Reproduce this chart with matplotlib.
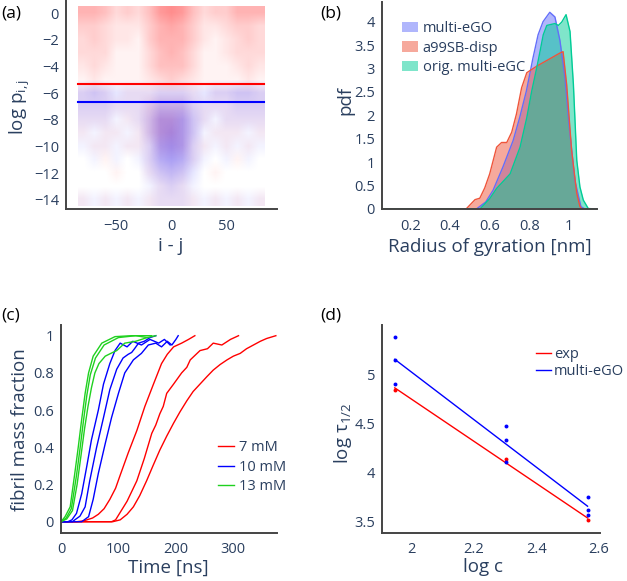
import matplotlib.pyplot as plt
import numpy as np
from matplotlib.ticker import FuncFormatter

plt.rcParams['font.family'] = ['Open Sans', 'DejaVu Sans']
plt.rcParams['mathtext.fontset'] = 'custom'
plt.rcParams['mathtext.rm'] = 'Open Sans'
plt.rcParams['mathtext.it'] = 'Open Sans:italic'

TXT = '#2a3f5f'

# ---- (a) contact probability vs sequence separation (density)
sep_edges = [-85, 85]
logp_edges = [-14.5, 0.5]
sep_cols = [-80, -70, -60, -50, -40, -30, -20, -10, 0, 10, 20, 30, 40, 50, 60, 70, 80]
red_density = [
    [6, 6, 5, 3, 4, 3, 5, 8, 9, 8, 5, 3, 4, 4, 6, 6, 6],
    [4, 4, 3, 2, 2, 2, 4, 6, 7, 6, 4, 2, 2, 3, 4, 4, 3],
    [3, 4, 3, 2, 2, 1, 4, 6, 6, 6, 4, 2, 1, 2, 3, 4, 3],
    [3, 3, 3, 1, 1, 1, 3, 5, 6, 5, 3, 1, 1, 2, 3, 3, 3],
    [2, 3, 2, 1, 1, 1, 3, 5, 5, 5, 3, 1, 1, 1, 2, 3, 2],
    [1, 2, 1, 1, 1, 1, 2, 3, 4, 3, 2, 1, 1, 1, 1, 2, 1],
    [1, 1, 1, 0, 1, 1, 1, 1, 1, 1, 1, 0, 1, 1, 1, 1, 1],
    [1, 1, 1, 1, 1, 1, 2, 2, 2, 2, 1, 1, 1, 1, 1, 1, 1],
    [1, 1, 1, 0, 1, 1, 2, 3, 3, 2, 1, 1, 0, 1, 1, 1, 1],
    [1, 0, 1, 1, 0, 1, 2, 3, 3, 2, 1, 0, 1, 1, 1, 0, 1],
    [0, 1, 1, 0, 1, 1, 1, 2, 2, 2, 1, 1, 0, 1, 0, 1, 0],
    [0, 0, 1, 0, 0, 0, 1, 1, 1, 1, 1, 0, 0, 0, 1, 0, 0],
    [0, 0, 0, 1, 0, 0, 1, 1, 1, 1, 0, 0, 1, 0, 0, 0, 0],
    [0, 0, 0, 0, 0, 0, 0, 1, 1, 1, 0, 0, 0, 0, 0, 0, 0],
    [1, 0, 1, 0, 1, 0, 1, 1, 1, 1, 1, 0, 1, 0, 1, 0, 1],
]
blue_density = [
    [0, 0, 0, 0, 0, 0, 0, 0, 0, 0, 0, 0, 0, 0, 0, 0, 0],
    [0, 0, 0, 0, 0, 0, 0, 0, 0, 0, 0, 0, 0, 0, 0, 0, 0],
    [0, 0, 0, 0, 0, 0, 0, 0, 0, 0, 0, 0, 0, 0, 0, 0, 0],
    [0, 0, 0, 0, 0, 0, 0, 0, 0, 0, 0, 0, 0, 0, 0, 0, 0],
    [0, 0, 0, 0, 0, 0, 0, 0, 0, 0, 0, 0, 0, 0, 0, 0, 0],
    [0, 0, 0, 0, 0, 0, 0, 0, 0, 0, 0, 0, 0, 0, 0, 0, 0],
    [3, 4, 3, 2, 2, 2, 2, 3, 3, 3, 2, 2, 3, 3, 4, 4, 3],
    [3, 3, 3, 2, 2, 2, 3, 5, 5, 5, 3, 2, 2, 2, 3, 3, 3],
    [2, 2, 2, 1, 1, 2, 4, 7, 7, 7, 4, 2, 1, 2, 2, 2, 2],
    [1, 1, 1, 1, 1, 1, 4, 7, 8, 7, 4, 1, 1, 1, 1, 1, 1],
    [1, 1, 1, 1, 1, 1, 3, 7, 8, 7, 3, 1, 1, 1, 1, 1, 1],
    [0, 1, 0, 1, 0, 1, 3, 6, 7, 6, 3, 1, 0, 1, 0, 1, 0],
    [0, 0, 0, 0, 0, 0, 2, 4, 5, 4, 2, 0, 0, 0, 0, 0, 0],
    [0, 0, 0, 0, 0, 0, 1, 2, 3, 2, 1, 0, 0, 0, 0, 0, 0],
    [1, 1, 1, 1, 1, 1, 1, 2, 2, 2, 1, 1, 1, 1, 1, 1, 1],
]
red_threshold = -5.34
blue_threshold = -6.68

# ---- (b) radius of gyration distributions
rg_blue = [0.06, 0.50, 0.533, 0.58, 0.617, 0.667, 0.718, 0.751, 0.785, 0.818, 0.844, 0.869, 0.903, 0.929, 0.954, 0.98, 1.0, 1.03, 1.06, 1.08, 1.14]
pdf_blue = [0, 0, 0, 0.15, 0.40, 0.90, 1.46, 1.95, 2.52, 3.22, 3.72, 4.0, 4.2, 4.1, 3.6, 2.8, 1.8, 0.6, 0.05, 0, 0]
rg_red = [0.06, 0.45, 0.481, 0.526, 0.55, 0.575, 0.60, 0.635, 0.66, 0.686, 0.711, 0.735, 0.761, 0.787, 0.837, 0.9, 0.954, 0.97, 0.988, 1.013, 1.039, 1.055, 1.065, 1.14]
pdf_red = [0, 0, 0, 0.2, 0.23, 0.45, 0.75, 1.32, 1.42, 1.42, 1.64, 2.03, 2.59, 2.91, 3.05, 3.2, 3.33, 3.36, 2.66, 1.25, 0.33, 0.05, 0, 0]
rg_green = [0.06, 0.52, 0.551, 0.60, 0.635, 0.703, 0.753, 0.787, 0.812, 0.837, 0.854, 0.87, 0.888, 0.929, 0.946, 0.963, 0.985, 1.005, 1.022, 1.039, 1.055, 1.072, 1.097, 1.14]
pdf_green = [0, 0, 0, 0.22, 0.44, 0.75, 1.32, 1.95, 2.52, 3.01, 3.37, 3.72, 3.92, 3.96, 3.92, 3.99, 4.15, 3.79, 2.66, 1.04, 0.47, 0.19, 0.01, 0]
rg_labels = ['multi-eGO', 'a99SB-disp', 'orig. multi-eGC']

# ---- (c) fibril mass fraction vs time
g1_t = [0, 7, 16, 24, 30, 36, 42, 48, 56, 71, 94, 123, 158]
g1_f = [0, 0.027, 0.08, 0.26, 0.40, 0.55, 0.69, 0.80, 0.89, 0.96, 0.995, 1.0, 1.0]
g2_t = [0, 9, 18, 27, 33, 39, 45, 51, 60, 75, 100, 130, 150]
g2_f = [0, 0.02, 0.07, 0.25, 0.39, 0.54, 0.68, 0.79, 0.88, 0.95, 0.99, 1.0, 0.99]
g3_t = [0, 10, 20, 28, 35, 41, 47, 53, 59, 66, 77, 90, 97, 111, 130, 150, 165]
g3_f = [0, 0.015, 0.06, 0.20, 0.36, 0.50, 0.62, 0.72, 0.80, 0.85, 0.89, 0.91, 0.92, 0.96, 0.97, 0.99, 1.0]
b1_t = [0, 12, 19, 27, 36, 45, 53, 62, 65, 74, 85, 94, 103, 115, 125, 140, 155, 170, 180, 190]
b1_f = [0, 0, 0.01, 0.045, 0.15, 0.30, 0.44, 0.56, 0.60, 0.74, 0.85, 0.92, 0.96, 0.94, 0.97, 0.95, 0.98, 0.96, 0.98, 0.95]
b2_t = [0, 20, 24, 33, 42, 50, 62, 74, 85, 97, 108, 117, 123, 128, 135, 145, 155, 165]
b2_f = [0, 0, 0.01, 0.03, 0.08, 0.22, 0.40, 0.56, 0.71, 0.82, 0.88, 0.90, 0.91, 0.93, 0.96, 0.97, 0.99, 1.0]
b3_t = [0, 30, 36, 48, 56, 65, 77, 88, 100, 111, 126, 140, 152, 165, 175, 185, 193, 200, 204]
b3_f = [0, 0, 0, 0.027, 0.12, 0.26, 0.42, 0.56, 0.69, 0.80, 0.87, 0.905, 0.95, 0.96, 0.94, 0.97, 0.95, 0.98, 1.0]
r1_t = [0, 27, 40, 55, 65, 75, 85, 95, 103, 117, 132, 146, 161, 175, 185, 196, 210, 222, 233]
r1_f = [0, 0, 0.005, 0.02, 0.04, 0.07, 0.12, 0.18, 0.25, 0.37, 0.49, 0.62, 0.74, 0.85, 0.90, 0.94, 0.96, 0.98, 1.0]
r2_t = [0, 88, 95, 103, 115, 132, 145, 158, 165, 172, 178, 184, 196, 210, 219, 225, 242, 255, 265, 280, 295, 309]
r2_f = [0, 0, 0.01, 0.05, 0.11, 0.22, 0.34, 0.475, 0.52, 0.58, 0.62, 0.69, 0.74, 0.80, 0.83, 0.87, 0.92, 0.93, 0.96, 0.95, 0.98, 1.0]
r3_t = [0, 90, 103, 115, 126, 137, 149, 160, 172, 184, 196, 207, 219, 230, 242, 254, 265, 277, 289, 300, 312, 323, 335, 347, 358, 374]
r3_f = [0, 0, 0.01, 0.04, 0.08, 0.14, 0.22, 0.30, 0.385, 0.46, 0.53, 0.59, 0.65, 0.70, 0.74, 0.78, 0.815, 0.845, 0.87, 0.89, 0.905, 0.93, 0.95, 0.97, 0.985, 1.0]
conc_labels = ['7 mM', '10 mM', '13 mM']

# ---- (d) half-time scaling
logc_exp = [1.946, 2.303, 2.565]
logtau_exp = [4.844, 4.14, 3.516]
logc_sim = [1.946, 1.946, 1.946, 2.303, 2.303, 2.303, 2.565, 2.565, 2.565]
logtau_sim = [5.379, 5.149, 4.905, 4.478, 4.333, 4.109, 3.753, 3.624, 3.573]

W, H = 627, 581
fig = plt.figure(figsize=(W / 100, H / 100), dpi=100)


def rect(l, t, r, b):
    return [l / W, 1 - b / H, (r - l) / W, (b - t) / H]


def ftext(x, y, s, **kw):
    fig.text(x / W, 1 - y / H, s, ha='center', va='center', color=TXT, **kw)


fmt = FuncFormatter(lambda v, p: f'{v:g}'.replace('-', '\u2212'))


def style(ax):
    for s in ['top', 'right']:
        ax.spines[s].set_visible(False)
    for s in ['left', 'bottom']:
        ax.spines[s].set_color('#444444')
        ax.spines[s].set_linewidth(1.4)
    ax.tick_params(length=0, labelsize=10.5, labelcolor=TXT, pad=5)
    ax.xaxis.set_major_formatter(fmt)
    ax.yaxis.set_major_formatter(fmt)


# (a)
ax = fig.add_axes(rect(66, 0, 277, 209))
style(ax)
for dens, col in [(blue_density, (0, 0, 1)), (red_density, (1, 0, 0))]:
    d = np.array(dens, dtype=float)
    img = np.zeros(d.shape + (4,))
    img[..., :3] = col
    img[..., 3] = d / 9 * 0.45
    ax.imshow(img, extent=[sep_edges[0], sep_edges[1], logp_edges[0], logp_edges[1]],
              aspect='auto', interpolation='bilinear', zorder=1)
ax.plot(sep_edges, [red_threshold] * 2, color='red', lw=1.5, zorder=3)
ax.plot(sep_edges, [blue_threshold] * 2, color='blue', lw=1.5, zorder=3)
ax.set_xlim(-95.5, 96.4)
ax.set_ylim(-14.7, 1.0)
ax.set_xticks([-50, 0, 50])
ax.set_yticks(range(-14, 1, 2))
ax.tick_params(axis='x', pad=7)
ftext(20, 107, r'log p$_{\mathrm{i,j}}$', fontsize=13.5, rotation=90)
ftext(171, 246, 'i - j', fontsize=13.5)

# (b)
ax = fig.add_axes(rect(382, 2, 597, 209))
style(ax)
handles = []
for x, y, c in [(rg_blue, pdf_blue, '#636efa'), (rg_red, pdf_red, '#ef553b'), (rg_green, pdf_green, '#00cc96')]:
    h = ax.fill_between(x, y, color=c, alpha=0.5, lw=0)
    ax.plot(x, y, color=c, lw=1)
    handles.append(h)
ax.set_xlim(0.057, 1.141)
ax.set_ylim(0, 4.42)
ax.set_xticks([0.2, 0.4, 0.6, 0.8, 1.0])
ax.set_yticks(np.arange(0, 4.01, 0.5))
ax.tick_params(axis='x', pad=7)
ax.legend(handles, rg_labels, loc='upper left', bbox_to_anchor=(395 / W, 1 - 14 / H),
          bbox_transform=fig.transFigure, frameon=False, fontsize=10.5, handlelength=1.1,
          handletextpad=0.3, labelspacing=0.3, borderpad=0, labelcolor=TXT)
ftext(345, 100, 'pdf', fontsize=13.5, rotation=90)
ftext(490, 247, 'Radius of gyration [nm]', fontsize=13.5)

# (c)
ax = fig.add_axes(rect(61, 325, 277, 532.7))
style(ax)
ax.plot(r1_t, r1_f, color='red', lw=1, label=conc_labels[0])
ax.plot(r2_t, r2_f, color='red', lw=1)
ax.plot(r3_t, r3_f, color='red', lw=1)
ax.plot(b1_t, b1_f, color='blue', lw=1, label=conc_labels[1])
ax.plot(b2_t, b2_f, color='blue', lw=1)
ax.plot(b3_t, b3_f, color='blue', lw=1)
ax.plot(g1_t, g1_f, color='#1fd11f', lw=1, label=conc_labels[2])
ax.plot(g2_t, g2_f, color='#1fd11f', lw=1)
ax.plot(g3_t, g3_f, color='#1fd11f', lw=1)
ax.set_xlim(0, 376)
ax.set_ylim(-0.059, 1.0575)
ax.set_xticks([0, 100, 200, 300])
ax.set_yticks([0, 0.2, 0.4, 0.6, 0.8, 1.0])
ax.tick_params(axis='x', pad=7)
ax.legend(loc='upper left', bbox_to_anchor=(211 / W, 1 - 433 / H), bbox_transform=fig.transFigure,
          frameon=False, fontsize=10.5, handlelength=1.1, handletextpad=0.3, labelspacing=0.3,
          borderpad=0, labelcolor=TXT)
ftext(20, 430, 'fibril mass fraction', fontsize=13.5, rotation=90)
ftext(168, 568, 'Time [ns]', fontsize=13.5)

# (d)
ax = fig.add_axes(rect(382, 325, 600, 532.7))
style(ax)
k_e = np.polyfit(logc_exp, logtau_exp, 1)
k_s = np.polyfit(logc_sim, logtau_sim, 1)
xs = np.array([min(logc_exp), max(logc_exp)])
ax.plot(xs, np.polyval(k_e, xs), color='red', lw=1, label='exp')
ax.plot(xs, np.polyval(k_s, xs), color='blue', lw=1, label='multi-eGO')
ax.scatter(logc_exp, logtau_exp, color='red', s=8, zorder=3, lw=0)
ax.scatter(logc_sim, logtau_sim, color='blue', s=8, zorder=3, lw=0)
ax.set_xlim(1.905, 2.605)
ax.set_ylim(3.39, 5.50)
ax.set_xticks([2, 2.2, 2.4, 2.6])
ax.set_yticks([3.5, 4, 4.5, 5])
ax.tick_params(axis='x', pad=7)
ax.legend(loc='upper left', bbox_to_anchor=(529 / W, 1 - 340 / H), bbox_transform=fig.transFigure,
          frameon=False, fontsize=10.5, handlelength=1.0, handletextpad=0.2, labelspacing=0.15,
          borderpad=0, labelcolor=TXT)
ftext(343, 433, r'log τ$_{\mathrm{1/2}}$', fontsize=13.5, rotation=90)
ftext(483, 567, 'log c', fontsize=13.5)

# panel letters
for x, y, s in [(1, 14, '(a)'), (320, 14, '(b)'), (1, 315, '(c)'), (320, 315, '(d)')]:
    fig.text(x / W, 1 - y / H, s, ha='left', va='center', fontsize=12.5, color='black')

fig.savefig('out.png', dpi=100)
